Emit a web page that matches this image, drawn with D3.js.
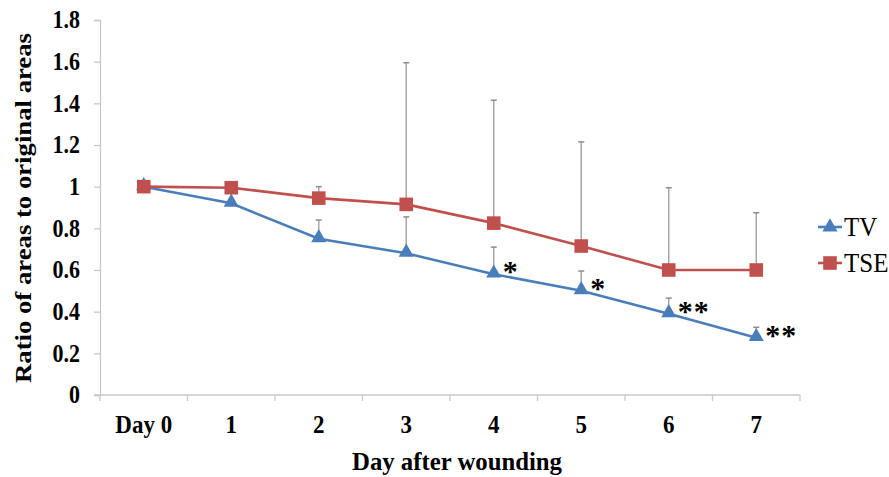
<!DOCTYPE html>
<html>
<head>
<meta charset="utf-8">
<script src="https://cdn.jsdelivr.net/npm/d3@7/dist/d3.min.js"></script>
<style>
  body { margin: 0; background: white; }
  svg { display: block; }
</style>
</head>
<body>
<svg id="chart" width="889" height="477"></svg>
<script>
// data
var days = ["Day 0", "1", "2", "3", "4", "5", "6", "7"];
var tvMean = [1, 0.92, 0.75, 0.68, 0.58, 0.50, 0.39, 0.275];
var tvErr = [0, 0, 0.09, 0.175, 0.13, 0.095, 0.075, 0.05];
var tseMean = [1, 0.995, 0.945, 0.915, 0.825, 0.715, 0.60, 0.60];
var tseErr = [0, 0, 0.055, 0.68, 0.59, 0.50, 0.395, 0.275];
var signif = ["", "", "", "", "*", "*", "**", "**"];
var yTicks = [0, 0.2, 0.4, 0.6, 0.8, 1, 1.2, 1.4, 1.6, 1.8];

var serif = "'Liberation Serif','Times New Roman',serif";
var stretch = 1.12; // text in the source is a bit taller than wide
var blue = "#4a7ebb", red = "#c0504d", axisGrey = "#c8c8c8";

var svg = d3.select("#chart");
svg.append("rect").attr("width", 889).attr("height", 477).attr("fill", "white");

var x = d3.scaleBand().domain(days).range([100, 800]);
var y = d3.scaleLinear().domain([0, 1.8]).range([395, 20]);
var cx = function(i) { return x(days[i]) + x.bandwidth() / 2; };

// y axis
var yAxis = svg.append("g")
  .attr("transform", "translate(100,0)")
  .call(d3.axisLeft(y).tickValues(yTicks).tickSize(6).tickPadding(14)
    .tickFormat(function(d) { return d3.format(".1~f")(d); }));
yAxis.select(".domain").attr("stroke", axisGrey).attr("stroke-width", 1.3);
yAxis.selectAll(".tick line").attr("stroke", axisGrey).attr("stroke-width", 1.3);
yAxis.selectAll(".tick text")
  .attr("transform", "scale(1," + stretch + ")")
  .style("font-family", serif).style("font-weight", "bold")
  .style("font-size", "22px").attr("fill", "#000");

// x axis: line, boundary ticks, centred labels
var xAxis = svg.append("g").attr("transform", "translate(0,395)");
xAxis.append("line")
  .attr("x1", 94).attr("x2", 800).attr("y1", 0).attr("y2", 0)
  .attr("stroke", axisGrey).attr("stroke-width", 1.3);
xAxis.selectAll(".bound")
  .data(d3.range(days.length + 1))
  .join("line")
  .attr("class", "bound")
  .attr("x1", function(i) { return 100 + i * x.step(); })
  .attr("x2", function(i) { return 100 + i * x.step(); })
  .attr("y1", 0).attr("y2", 6)
  .attr("stroke", axisGrey).attr("stroke-width", 1.3);
xAxis.selectAll(".xlab")
  .data(days)
  .join("text")
  .attr("class", "xlab")
  .attr("transform", function(d, i) { return "translate(" + cx(i) + ",38) scale(1," + stretch + ")"; })
  .attr("text-anchor", "middle")
  .style("font-family", serif).style("font-weight", "bold").style("font-size", "23px")
  .text(function(d) { return d; });

// axis titles
svg.append("text")
  .attr("transform", "translate(457,470) scale(1," + stretch + ")")
  .attr("text-anchor", "middle")
  .attr("textLength", 210).attr("lengthAdjust", "spacingAndGlyphs")
  .style("font-family", serif).style("font-weight", "bold").style("font-size", "23px")
  .text("Day after wounding");

svg.append("text")
  .attr("transform", "translate(31,208) rotate(-90)")
  .attr("text-anchor", "middle")
  .attr("textLength", 350).attr("lengthAdjust", "spacingAndGlyphs")
  .style("font-family", serif).style("font-weight", "bold").style("font-size", "23px")
  .text("Ratio of areas to original areas");

// error bars (upper only)
function errorBars(mean, err, cls) {
  var g = svg.append("g").attr("class", cls);
  var idx = d3.range(mean.length).filter(function(i) { return err[i] > 0; });
  g.selectAll("line.v").data(idx).join("line").attr("class", "v")
    .attr("x1", cx).attr("x2", cx)
    .attr("y1", function(i) { return y(mean[i]); })
    .attr("y2", function(i) { return y(mean[i] + err[i]); })
    .attr("stroke", "#a6a6a6").attr("stroke-width", 1.5);
  g.selectAll("line.c").data(idx).join("line").attr("class", "c")
    .attr("x1", function(i) { return cx(i) - 3; }).attr("x2", function(i) { return cx(i) + 3; })
    .attr("y1", function(i) { return y(mean[i] + err[i]); })
    .attr("y2", function(i) { return y(mean[i] + err[i]); })
    .attr("stroke", "#8c8c8c").attr("stroke-width", 1.5);
}
errorBars(tvMean, tvErr, "err-tv");
errorBars(tseMean, tseErr, "err-tse");

var line = d3.line().x(function(d, i) { return cx(i); }).y(function(d) { return y(d); });

var tri = d3.symbol().type(d3.symbolTriangle).size(100);
var sq = d3.symbol().type(d3.symbolSquare).size(185);

// TV series
svg.append("path").datum(tvMean)
  .attr("d", line).attr("fill", "none").attr("stroke", blue).attr("stroke-width", 2.6);
svg.selectAll(".tv-pt").data(tvMean).join("path").attr("class", "tv-pt")
  .attr("d", tri)
  .attr("transform", function(d, i) { return "translate(" + cx(i) + "," + (y(d) - 1) + ")"; })
  .attr("fill", blue);

// TSE series
svg.append("path").datum(tseMean)
  .attr("d", line).attr("fill", "none").attr("stroke", red).attr("stroke-width", 2.6);
svg.selectAll(".tse-pt").data(tseMean).join("path").attr("class", "tse-pt")
  .attr("d", sq)
  .attr("transform", function(d, i) { return "translate(" + cx(i) + "," + y(d) + ")"; })
  .attr("fill", red);

// significance marks next to TV points
svg.selectAll(".sig").data(signif).join("text").attr("class", "sig")
  .attr("x", function(d, i) { return cx(i) + 9; })
  .attr("y", function(d, i) { return y(tvMean[i]) + 7; })
  .attr("letter-spacing", 1)
  .style("font-family", serif).style("font-weight", "bold").style("font-size", "30px")
  .text(function(d) { return d; });

// legend
var legendItems = [
  { name: "TV", color: blue, shape: tri, y: 227 },
  { name: "TSE", color: red, shape: sq, y: 263 }
];
var legend = svg.append("g").attr("class", "legend");
legendItems.forEach(function(it) {
  legend.append("line")
    .attr("x1", 818).attr("x2", 842).attr("y1", it.y).attr("y2", it.y)
    .attr("stroke", it.color).attr("stroke-width", 2.6);
  legend.append("path").attr("d", it.shape)
    .attr("transform", "translate(830," + it.y + ")")
    .attr("fill", it.color);
  legend.append("text")
    .attr("transform", "translate(844," + (it.y + 9) + ") scale(1," + stretch + ")")
    .style("font-family", serif).style("font-size", "25px")
    .text(it.name);
});
</script>
</body>
</html>
